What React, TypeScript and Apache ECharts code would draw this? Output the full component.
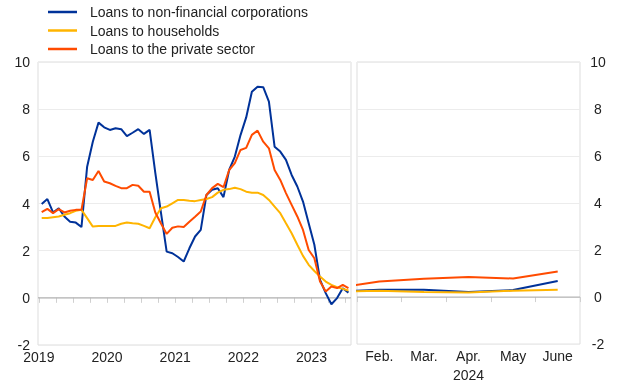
import React, { useEffect, useRef } from 'react';
import * as echarts from 'echarts';

// Annual growth rates, monthly, Jan 2019 .. Jul 2023 (left panel)
const yearLabels = ['2019', '2020', '2021', '2022', '2023'];
const nfcLeft = [3.98, 4.19, 3.62, 3.80, 3.45, 3.23, 3.19, 3.00, 5.56, 6.62, 7.43, 7.23, 7.12, 7.19, 7.15, 6.86, 7.00, 7.15, 6.95, 7.12, 5.30, 3.60, 1.96, 1.89, 1.73, 1.54, 2.10, 2.60, 2.88, 4.36, 4.58, 4.65, 4.27, 5.42, 5.99, 6.90, 7.65, 8.74, 8.95, 8.93, 8.32, 6.41, 6.20, 5.85, 5.21, 4.72, 4.08, 3.16, 2.25, 0.76, 0.20, -0.27, -0.01, 0.41, 0.22];
const hhLeft = [3.38, 3.39, 3.42, 3.45, 3.52, 3.59, 3.69, 3.73, 3.38, 3.02, 3.05, 3.05, 3.05, 3.05, 3.14, 3.19, 3.16, 3.14, 3.05, 2.95, 3.42, 3.80, 3.87, 4.01, 4.15, 4.15, 4.12, 4.10, 4.15, 4.19, 4.27, 4.46, 4.58, 4.61, 4.67, 4.61, 4.50, 4.46, 4.46, 4.36, 4.15, 3.87, 3.59, 3.16, 2.74, 2.25, 1.78, 1.40, 1.14, 0.90, 0.69, 0.55, 0.45, 0.38, 0.31];
const pskLeft = [3.63, 3.77, 3.59, 3.76, 3.62, 3.69, 3.73, 3.73, 5.07, 5.00, 5.38, 4.93, 4.86, 4.75, 4.65, 4.65, 4.79, 4.75, 4.50, 4.50, 3.62, 3.15, 2.71, 2.97, 3.03, 3.00, 3.23, 3.44, 3.66, 4.36, 4.65, 4.83, 4.69, 5.42, 5.71, 6.27, 6.36, 6.91, 7.09, 6.62, 6.34, 5.42, 5.00, 4.44, 3.94, 3.45, 2.88, 2.03, 1.68, 0.69, 0.27, 0.48, 0.41, 0.55, 0.41];

// Right panel: Jan .. June 2024 (Jan sits just outside the visible range)
const monthLabels2024 = ['Feb.', 'Mar.', 'Apr.', 'May', 'June'];
const rightYearLabel = '2024';
const nfcRight = [0.23, 0.31, 0.31, 0.22, 0.30, 0.68];
const hhRight = [0.23, 0.27, 0.22, 0.20, 0.27, 0.31];
const pskRight = [0.38, 0.66, 0.78, 0.85, 0.79, 1.09];

const seriesNames = ['Loans to non-financial corporations', 'Loans to households', 'Loans to the private sector'];
const colors = ['#003299', '#ffb400', '#ff4b00'];

const FONT = "'Liberation Sans', Arial, Helvetica, sans-serif";
const TEXT = '#222222';

export default function App() {
  const ref = useRef<HTMLDivElement>(null);
  useEffect(() => {
    const chart = echarts.init(ref.current as HTMLDivElement, null, { renderer: 'svg' });
    const leftMin = -0.65;
    const leftMax = 54.45;
    const leftData = [nfcLeft, hhLeft, pskLeft];
    const rightData = [nfcRight, hhRight, pskRight];
    const yearTicks = yearLabels.map((_, i) => i * 12 - 0.5);
    const quarterTicks: number[] = [];
    for (let q = -0.5; q <= leftMax; q += 3) quarterTicks.push(q);

    const lineSeries: any[] = [];
    // zero lines
    lineSeries.push({
      type: 'line', name: 'zeroL', xAxisIndex: 0, yAxisIndex: 0, z: 1, silent: true,
      symbol: 'none', data: [[leftMin, 0], [leftMax, 0]],
      lineStyle: { color: '#a8a8a8', width: 1 },
    });
    lineSeries.push({
      type: 'line', name: 'zeroR', xAxisIndex: 2, yAxisIndex: 1, z: 1, silent: true,
      symbol: 'none', data: [[1.5, 0], [6.5, 0]],
      lineStyle: { color: '#a8a8a8', width: 1 },
    });
    seriesNames.forEach((name, k) => {
      lineSeries.push({
        type: 'line', name, xAxisIndex: 0, yAxisIndex: 0, z: 2,
        symbol: 'none', showSymbol: false,
        data: leftData[k].map((v, i) => [i, v]),
        lineStyle: { color: colors[k], width: 2 },
        itemStyle: { color: colors[k] },
      });
    });
    seriesNames.forEach((name, k) => {
      lineSeries.push({
        type: 'line', name, xAxisIndex: 2, yAxisIndex: 1, z: 2,
        symbol: 'none', showSymbol: false, clip: true,
        data: rightData[k].map((v, i) => [i + 1, v]),
        lineStyle: { color: colors[k], width: 2 },
        itemStyle: { color: colors[k] },
      });
    });

    const labelStyle = { color: TEXT, fontSize: 14, fontFamily: FONT };
    const tickStyle = { color: '#d0d0d0', width: 1 };

    chart.setOption({
      animation: false,
      textStyle: { fontFamily: FONT },
      legend: {
        data: seriesNames.map((n, k) => ({ name: n, icon: 'rect', itemStyle: { color: colors[k] } })),
        orient: 'vertical',
        left: 48,
        top: 5,
        padding: 0,
        itemWidth: 29,
        itemHeight: 2.5,
        itemGap: 4.5,
        selectedMode: false,
        textStyle: { ...labelStyle, lineHeight: 14, padding: [0, 0, 0, 8] },
      },
      grid: [
        { left: 38, top: 62, width: 313, height: 283, show: true, borderColor: '#dddddd', borderWidth: 1 },
        { left: 357, top: 62, width: 223, height: 283, show: true, borderColor: '#dddddd', borderWidth: 1 },
      ],
      xAxis: [
        {
          type: 'value', gridIndex: 0, min: leftMin, max: leftMax,
          axisLine: { show: false }, splitLine: { show: false },
          axisTick: { show: true, customValues: quarterTicks, length: 5, lineStyle: tickStyle },
          axisLabel: {
            ...labelStyle, margin: 5, customValues: yearTicks,
            formatter: (v: number) => yearLabels[Math.round((v + 0.5) / 12)] ?? '',
          },
        },
        {
          type: 'category', gridIndex: 1, data: monthLabels2024, boundaryGap: true,
          axisLine: { show: false }, splitLine: { show: false },
          axisTick: { show: true, length: 5, lineStyle: tickStyle, interval: 0 },
          axisLabel: { ...labelStyle, margin: 5, interval: 0 },
          name: rightYearLabel, nameLocation: 'middle', nameGap: 22,
          nameTextStyle: labelStyle,
        },
        { type: 'value', gridIndex: 1, min: 1.5, max: 6.5, show: false },
      ],
      yAxis: [
        {
          type: 'value', gridIndex: 0, min: -2, max: 10, interval: 2, position: 'left',
          axisLine: { show: false }, axisTick: { show: false },
          splitLine: { lineStyle: { color: '#ececec', width: 1 } },
          axisLabel: { ...labelStyle, margin: 8 },
        },
        {
          type: 'value', gridIndex: 1, min: -2, max: 10, interval: 2, position: 'right',
          axisLine: { show: false }, axisTick: { show: false },
          splitLine: { lineStyle: { color: '#ececec', width: 1 } },
          axisLabel: { ...labelStyle, margin: 18, align: 'center' },
        },
      ],
      series: lineSeries,
    });
    return () => chart.dispose();
  }, []);
  return <div ref={ref} style={{ position: 'fixed', left: 0, top: 0, width: 620, height: 387 }} />;
}
